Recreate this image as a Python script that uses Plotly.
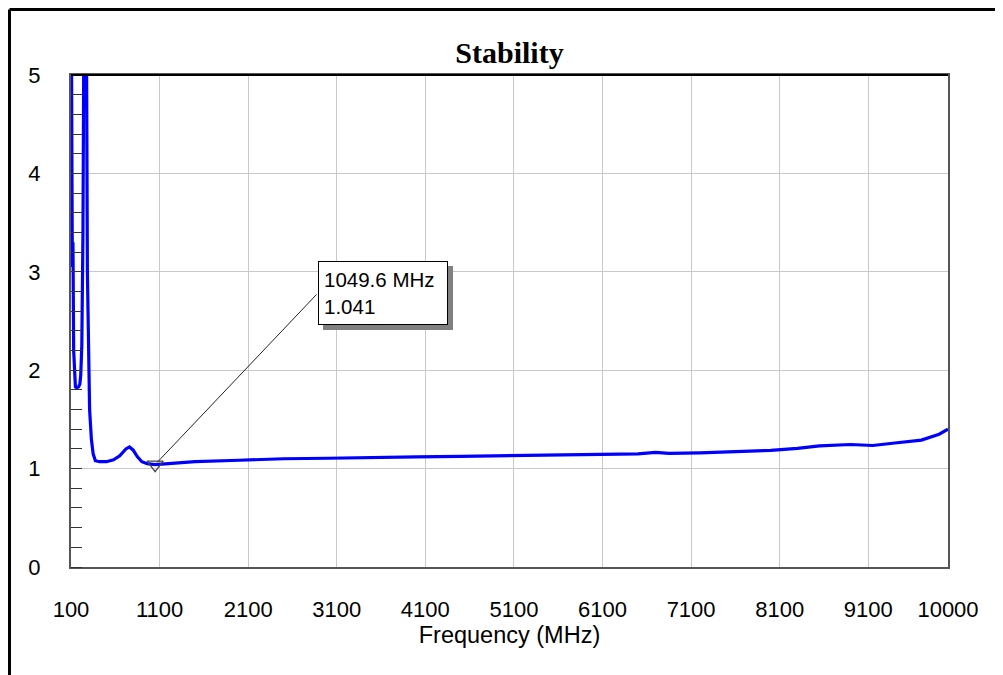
import plotly.graph_objects as go

# ---- data ----
freq_mhz = [100, 108, 115, 122, 130, 140, 150, 165, 185, 200, 210, 222, 235, 248, 260,
            272, 285, 298, 310, 330, 350, 375, 420, 500, 580, 650, 720, 760, 800, 850, 900,
            960, 1049.6, 1200, 1500, 2000, 2500, 3000, 3500, 4000, 4500, 5000, 5500,
            6000, 6500, 6700, 6850, 7200, 7600, 8000, 8300, 8550, 8900, 9150, 9400,
            9700, 9900, 10000]
stability = [6.5, 5.0, 3.05, 3.3, 2.2, 1.9, 1.83, 1.82, 1.83, 1.86, 1.95, 2.25, 3.4, 6.0, 12.0,
             6.0, 3.0, 2.0, 1.6, 1.3, 1.15, 1.08, 1.07, 1.07, 1.09, 1.13, 1.2, 1.22, 1.19, 1.12, 1.07,
             1.05, 1.041, 1.05, 1.07, 1.085, 1.10, 1.105, 1.115, 1.12, 1.125, 1.13, 1.135,
             1.14, 1.15, 1.165, 1.155, 1.16, 1.17, 1.185, 1.205, 1.23, 1.245, 1.235, 1.26,
             1.29, 1.35, 1.40]

marker_freq = 1049.6
marker_val = 1.041

x_ticks = [100, 1100, 2100, 3100, 4100, 5100, 6100, 7100, 8100, 9100, 10000]
y_ticks = [0, 1, 2, 3, 4, 5]

title_text = "Stability"
x_title = "Frequency (MHz)"

# callout box position (data coordinates)
box_x = 2888
box_y = 3.11
arrow_tail_x = 2888
arrow_tail_y = 2.785

OFF = 8  # page body margin
W, H = 1003 - OFF, 675 - OFF
L, R, T, B = 71 - OFF, 55, 75 - OFF, 108
pw, ph = W - L - R, H - T - B

fig = go.Figure()
fig.add_trace(go.Scatter(x=freq_mhz, y=stability, mode="lines",
                         line=dict(color="#0000FF", width=3.2), showlegend=False,
                         hoverinfo="x+y"))
fig.add_trace(go.Scatter(x=[marker_freq], y=[marker_val], mode="markers",
                         marker=dict(symbol="triangle-down-open", size=14, color="#444444",
                                     line=dict(width=1.3)),
                         showlegend=False))

label = f"{marker_freq} MHz<br>{marker_val}"
afont = dict(family="Liberation Sans, Arial, sans-serif", size=20.5, color="black")
# shadow (same box size, no text)
fig.add_annotation(x=box_x, y=box_y, xref="x", yref="y", xanchor="left", yanchor="top",
                   text=" ", showarrow=False, align="left", width=118, height=52,
                   borderpad=5, borderwidth=1, bordercolor="#808080", bgcolor="#808080",
                   font=afont, xshift=5, yshift=-5)
# box
fig.add_annotation(x=box_x, y=box_y, xref="x", yref="y", xanchor="left", yanchor="top",
                   text=label, showarrow=False, align="left", width=118, height=52,
                   borderpad=5, borderwidth=1, bordercolor="black", bgcolor="white",
                   font=afont)
# leader line
fig.add_annotation(x=marker_freq, y=marker_val, xref="x", yref="y",
                   ax=arrow_tail_x, ay=arrow_tail_y, axref="x", ayref="y",
                   text="", showarrow=True, arrowhead=0, arrowwidth=1, arrowcolor="#222222",
                   standoff=3)

# outer frame lines (top and left)
fx0 = -(L - 1.5) / pw
fy_top = 1 + (T - 1.5) / ph
fig.add_shape(type="line", xref="paper", yref="paper", x0=fx0, x1=1 + R / pw + 0.01,
              y0=fy_top, y1=fy_top, line=dict(color="black", width=3))
fig.add_shape(type="line", xref="paper", yref="paper", x0=fx0, x1=fx0,
              y0=fy_top, y1=-B / ph - 0.01, line=dict(color="black", width=3))
# top plot border in black
fig.add_shape(type="line", xref="paper", yref="paper", x0=0, x1=1, y0=1, y1=1,
              line=dict(color="black", width=2))

tick_font = dict(family="Liberation Sans, Arial, sans-serif", size=22, color="black")
title_font = dict(family="Liberation Sans, Arial, sans-serif", size=23.5, color="black")

fig.update_layout(
    width=W, height=H,
    margin=dict(l=L, r=R, t=T, b=B),
    paper_bgcolor="white", plot_bgcolor="white",
    title=dict(text=f"<b>{title_text}</b>", x=(L + pw / 2) / W, xanchor="center",
               y=1 - (52 - OFF) / H, yanchor="middle", yref="container",
               font=dict(family="Liberation Serif, Times New Roman, serif", size=30, color="black")),
    xaxis=dict(range=[100, 10000], tickvals=x_ticks, ticktext=[str(v) for v in x_ticks],
               showgrid=True, gridcolor="#C8C8C8", gridwidth=1, zeroline=False,
               showline=True, linecolor="#555555", linewidth=2, mirror=True,
               ticks="", tickfont=tick_font, ticklabelstandoff=22,
               title=dict(text=x_title, font=title_font, standoff=4)),
    yaxis=dict(range=[0, 5], tickvals=y_ticks, showgrid=True, gridcolor="#C8C8C8",
               gridwidth=1, zeroline=False, showline=True, linecolor="#555555", linewidth=2,
               mirror=True, ticks="", tickfont=tick_font, ticklabelstandoff=24,
               minor=dict(dtick=0.2, ticks="inside", ticklen=11, tickcolor="#333333",
                          tickwidth=1, showgrid=False)),
)

fig.write_html("out.html")
